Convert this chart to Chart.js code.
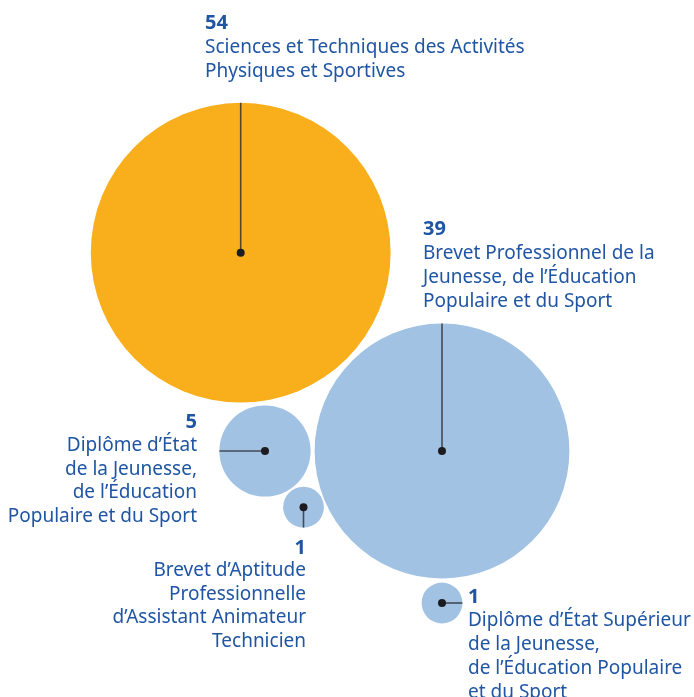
<!DOCTYPE html>
<html lang="fr">
<head>
<meta charset="utf-8">
<title>Diplômes</title>
<script src="https://cdn.jsdelivr.net/npm/chart.js@4/dist/chart.umd.min.js"></script>
<style>
  html, body { margin: 0; padding: 0; background: #fff; }
  #wrap { width: 694px; height: 697px; position: relative; }
</style>
</head>
<body>
<div id="wrap"><canvas id="chart" width="694" height="697"></canvas></div>
<script>
// data
const categories = [
  ['Sciences et Techniques des Activités', 'Physiques et Sportives'],
  ['Brevet Professionnel de la', 'Jeunesse, de l\u2019Éducation', 'Populaire et du Sport'],
  ['Diplôme d\u2019État', 'de la Jeunesse,', 'de l\u2019Éducation', 'Populaire et du Sport'],
  ['Brevet d\u2019Aptitude', 'Professionnelle', 'd\u2019Assistant Animateur', 'Technicien'],
  ['Diplôme d\u2019État Supérieur', 'de la Jeunesse,', 'de l\u2019Éducation Populaire', 'et du Sport'],
];
const counts = [54, 39, 5, 1, 1];

// packed layout (chart units = pixels of the 694x697 frame)
const posX = [240.7, 442, 265, 303.5, 442];
const posY = [252.7, 451, 451, 507.2, 603];

const colors = ['#F9AF1C', '#A1C2E2', '#A1C2E2', '#A1C2E2', '#A1C2E2'];
const RADIUS_UNIT = 20.4; // px for a count of 1, area-proportional

// where the leader goes and where the text sits
const labelSpec = [
  { dir: 'up',    align: 'left',  x: 205, numY: 29,  lineY: 53,  lh: 24 },
  { dir: 'up',    align: 'left',  x: 423, numY: 235, lineY: 259, lh: 24 },
  { dir: 'left',  align: 'right', x: 197, numY: 428, lineY: 451, lh: 23.6 },
  { dir: 'down',  align: 'right', x: 306, numY: 554, lineY: 576, lh: 23.5 },
  { dir: 'right', align: 'left',  x: 468, numY: 603, lineY: 626, lh: 24 },
];

const TEXT_BLUE = '#1F55A3';
const FONT = '"Noto Sans", sans-serif';

const labelPlugin = {
  id: 'bubbleLabels',
  afterDatasetsDraw(chart) {
    const ctx = chart.ctx;
    const meta = chart.getDatasetMeta(0);
    meta.data.forEach((pt, i) => {
      const spec = labelSpec[i];
      const r = pt.options.radius;
      let ex = pt.x, ey = pt.y;
      if (spec.dir === 'up') ey = pt.y - r;
      if (spec.dir === 'down') ey = pt.y + r;
      if (spec.dir === 'left') ex = pt.x - r;
      if (spec.dir === 'right') ex = pt.x + r;

      ctx.save();
      ctx.strokeStyle = 'rgba(35,35,40,0.75)';
      ctx.lineWidth = 1.6;
      ctx.beginPath();
      ctx.moveTo(pt.x, pt.y);
      ctx.lineTo(ex, ey);
      ctx.stroke();
      ctx.fillStyle = '#1c1c1e';
      ctx.beginPath();
      ctx.arc(pt.x, pt.y, 4, 0, Math.PI * 2);
      ctx.fill();

      ctx.textAlign = spec.align;
      ctx.textBaseline = 'alphabetic';
      ctx.fillStyle = TEXT_BLUE;
      ctx.font = 'bold 20px ' + FONT;
      ctx.fillText(String(counts[i]), spec.x, spec.numY);
      ctx.font = '19px ' + FONT;
      categories[i].forEach((line, j) => {
        ctx.fillText(line, spec.x, spec.lineY + j * spec.lh);
      });
      ctx.restore();
    });
  },
};

new Chart(document.getElementById('chart'), {
  type: 'bubble',
  data: {
    datasets: [{
      data: counts.map((v, i) => ({ x: posX[i], y: posY[i], r: RADIUS_UNIT * Math.sqrt(v) })),
      backgroundColor: colors,
      borderWidth: 0,
      hoverRadius: 0,
      hoverBorderWidth: 0,
    }],
  },
  options: {
    responsive: false,
    animation: false,
    events: [],
    layout: { padding: 0, autoPadding: false },
    scales: {
      x: { type: 'linear', min: 0, max: 694, display: false },
      y: { type: 'linear', min: 0, max: 697, reverse: true, display: false },
    },
    plugins: {
      legend: { display: false },
      tooltip: { enabled: false },
    },
    clip: false,
  },
  plugins: [labelPlugin],
});
</script>
</body>
</html>
